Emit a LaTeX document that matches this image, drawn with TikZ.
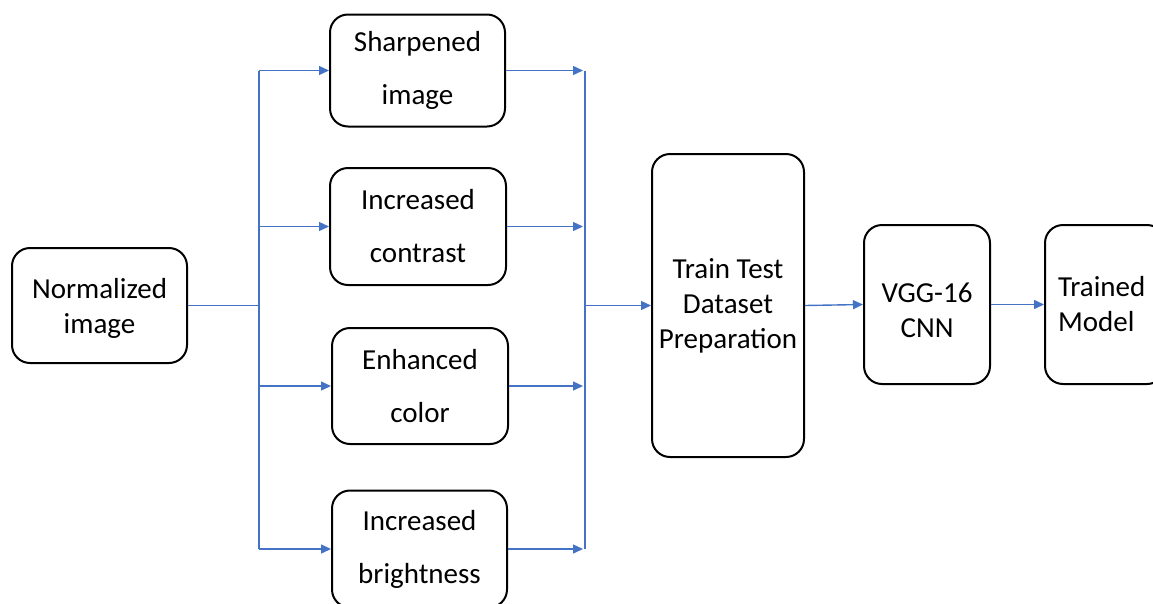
\documentclass[tikz,border=0pt]{standalone}
\usepackage{fontspec}
\setmainfont{Carlito}
\usetikzlibrary{arrows.meta,calc}
\definecolor{flowblue}{HTML}{4472C4}
\tikzset{
  stage/.style={draw=black, line width=2pt, rounded corners=18pt, fill=white,
    align=center, inner sep=0pt, font=\fontsize{29}{35}\selectfont},
  link/.style={draw=flowblue, line width=1.4pt},
  arrow/.style={link, -{Triangle[length=10pt,width=9pt]}},
}
\begin{document}
\begin{tikzpicture}[x=1pt, y=-1pt]
  \path[use as bounding box] (0,0) rectangle (1153,603);
  \clip (0,0) rectangle (1153,603);
  \fill[white] (0,0) rectangle (1153,603);

  % input
  \node[stage, minimum width=175pt, minimum height=115pt] (norm) at (99.5,305.5)
    {\\[-9pt]Normalized\\image};

  % augmentation branches
  \node[stage, minimum width=175pt, minimum height=112pt] (sharp) at (417.5,70.5)
    {Sharpened\\[18pt]image};
  \node[stage, minimum width=176pt, minimum height=117pt] (contrast) at (418,226.5)
    {Increased\\[18pt]contrast};
  \node[stage, minimum width=176pt, minimum height=116pt] (color) at (420,386)
    {Enhanced\\[18pt]color};
  \node[stage, minimum width=175pt, minimum height=117pt] (bright) at (419.5,549)
    {Increased\\[18pt]brightness};

  % dataset, network, result
  \node[stage, minimum width=152pt, minimum height=303pt] (prep) at (728,305.5)
    {Train Test\\Dataset\\Preparation};
  \node[stage, minimum width=126pt, minimum height=159pt] (vgg) at (927,304.5)
    {\\[-3pt]VGG-16\\CNN};
  \node[stage, align=left, minimum width=120pt, minimum height=159pt,
    text width=94pt, inner xsep=13pt] (model) at (1105,304.5)
    {Trained\\Model};

  % split and merge points
  \coordinate (jl) at (259,305.5);
  \coordinate (jr) at (585,305.5);

  % fan out
  \draw[link] (norm.east) -- (jl);
  \draw[link] (jl |- sharp.west) -- (jl |- bright.west);
  \foreach \b in {sharp,contrast,color,bright}
    \draw[arrow] (jl |- \b.west) -- (\b.west);

  % fan in
  \draw[link] (jr |- sharp.east) -- (jr |- bright.east);
  \foreach \b in {sharp,contrast,color,bright}
    \draw[arrow, shorten >=2pt] (\b.east) -- (jr |- \b.east);

  % pipeline
  \draw[arrow] (jr) -- (prep.west);
  \draw[arrow] (prep.east) -- (vgg.west);
  \draw[arrow] (vgg.east) -- (model.west);
\end{tikzpicture}
\end{document}
